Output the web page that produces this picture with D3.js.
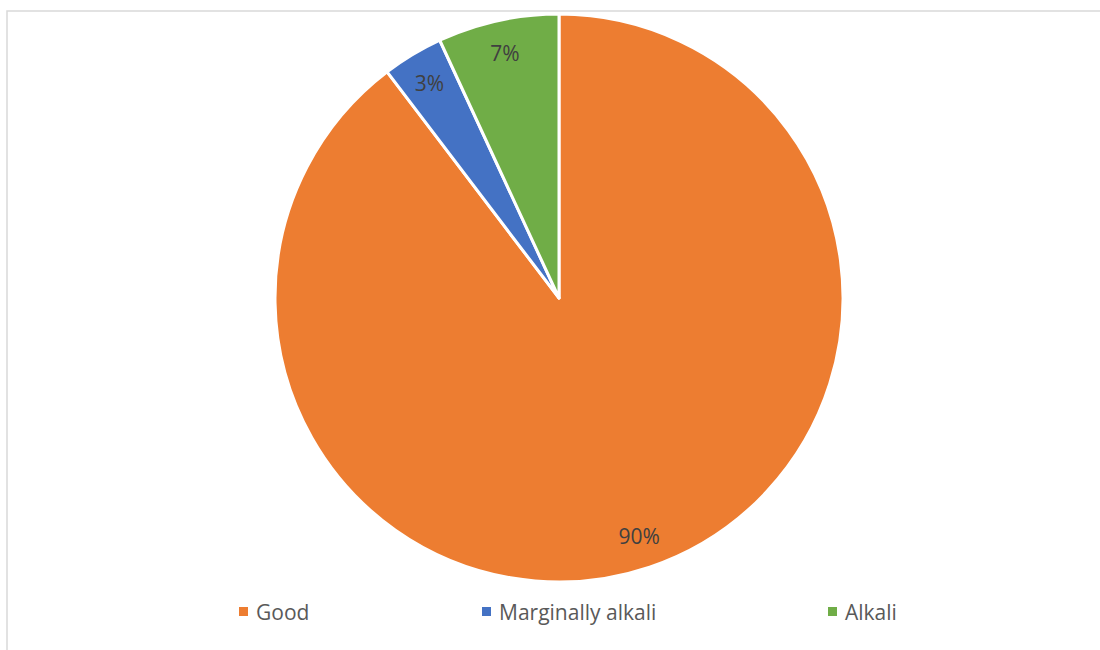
<!DOCTYPE html>
<html>
<head>
<meta charset="utf-8">
<script src="https://cdn.jsdelivr.net/npm/d3@7"></script>
<style>
html,body{margin:0;padding:0;background:#fff;}
svg{display:block;}
</style>
</head>
<body>
<svg id="chart" width="1100" height="650"></svg>
<script>
const categories = ["Good", "Marginally alkali", "Alkali"];
const values = [26, 1, 2];
const colors = ["#ED7D31", "#4472C4", "#70AD47"];
const legendX = [239, 482, 828];

const svg = d3.select("#chart");
const W = 1100, H = 650;
const font = "'Open Sans', 'Noto Sans', sans-serif";

// chart area frame
svg.append("rect").attr("x", 7).attr("y", 11).attr("width", W + 10).attr("height", H + 10)
  .attr("fill", "#fff").attr("stroke", "#d9d9d9").attr("stroke-width", 1.5);

const cx = 559, cy = 298, r = 284;
const total = d3.sum(values);
const pie = d3.pie().sort(null).value(d => d)(values);
const arc = d3.arc().innerRadius(0).outerRadius(r);
const labelArc = d3.arc().innerRadius(r * 0.885).outerRadius(r * 0.885);

const g = svg.append("g").attr("transform", `translate(${cx},${cy})`);
g.selectAll("path").data(pie).join("path")
  .attr("d", arc)
  .attr("fill", (d, i) => colors[i])
  .attr("stroke", "#fff")
  .attr("stroke-width", 3)
  .attr("stroke-linejoin", "round");

g.selectAll("text.lbl").data(pie).join("text")
  .attr("class", "lbl")
  .attr("transform", d => `translate(${labelArc.centroid(d)})`)
  .attr("text-anchor", "middle")
  .attr("dominant-baseline", "central")
  .attr("font-family", font)
  .attr("font-size", 21)
  .attr("fill", "#404040")
  .text(d => Math.round(d.data / total * 100) + "%");

// legend
const lg = svg.append("g");
categories.forEach((c, i) => {
  lg.append("rect").attr("x", legendX[i]).attr("y", 607).attr("width", 9).attr("height", 9)
    .attr("fill", colors[i]);
  lg.append("text").attr("x", legendX[i] + 17).attr("y", 612)
    .attr("dominant-baseline", "central")
    .attr("font-family", font).attr("font-size", 21).attr("fill", "#595959")
    .text(c);
});
</script>
</body>
</html>
